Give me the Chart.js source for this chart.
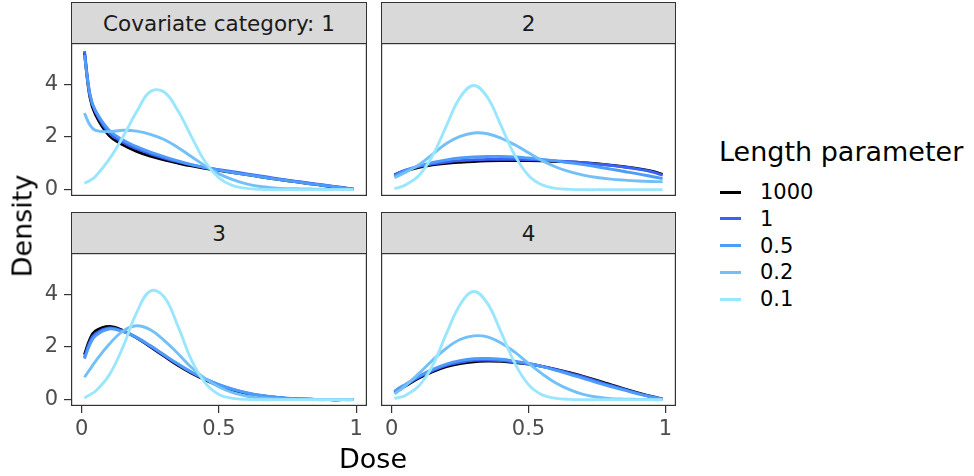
<!DOCTYPE html>
<html>
<head>
<meta charset="utf-8">
<script src="https://cdn.jsdelivr.net/npm/chart.js@4.4.1/dist/chart.umd.min.js"></script>
<style>
  body { margin: 0; background: #fff; font-family: "DejaVu Sans", sans-serif; }
  #wrap { position: relative; width: 974px; height: 476px; overflow: hidden; }
  .panel { position: absolute; }
  .strip { position: absolute; box-sizing: border-box; background: #d9d9d9; border: 1.2px solid #333;
           color: #1a1a1a; font-size: 21.5px; display: flex; align-items: center; justify-content: center; }
  .title { position: absolute; color: #000; font-size: 27px; white-space: nowrap; }
  .leg { position: absolute; font-size: 21px; color: #000; white-space: nowrap; }
  .sw { position: absolute; width: 21px; height: 3px; }
</style>
</head>
<body>
<div id="wrap">
  <div class="strip" style="left:71px;top:2px;width:296px;height:42px;">Covariate category: 1</div>
  <div class="strip" style="left:381px;top:2px;width:295px;height:42px;">2</div>
  <div class="strip" style="left:71px;top:212px;width:296px;height:42px;">3</div>
  <div class="strip" style="left:381px;top:212px;width:295px;height:42px;">4</div>
  <canvas id="p1" class="panel" style="left:0px;top:43px;" width="367" height="153"></canvas>
  <canvas id="p2" class="panel" style="left:381px;top:43px;" width="295" height="153"></canvas>
  <canvas id="p3" class="panel" style="left:0px;top:253px;" width="367" height="198"></canvas>
  <canvas id="p4" class="panel" style="left:381px;top:253px;" width="295" height="198"></canvas>
  <div class="title" style="left:373px;top:458px;transform:translate(-50%,-50%);">Dose</div>
  <div class="title" style="left:22px;top:226px;transform:translate(-50%,-50%) rotate(-90deg);">Density</div>
  <div id="legend"></div>
</div>
<script>
const dose = [0.01, 0.03, 0.05, 0.1, 0.15, 0.2, 0.25, 0.3, 0.35, 0.4, 0.45, 0.5,
              0.55, 0.6, 0.65, 0.7, 0.75, 0.8, 0.85, 0.9, 0.95, 0.99];
const lengths = ["1000", "1", "0.5", "0.2", "0.1"];
const colors = ["#000000", "#3a62f8", "#4e9cf9", "#73c0f9", "#9be6ff"];
const xTicks = [0, 0.5, 1];
const yTicks = [0, 2, 4];

// covariate category 1
const c1_1000 = [5.2, 3.5, 2.85, 2.05, 1.7, 1.45, 1.27, 1.13, 1.01, 0.9, 0.81, 0.73, 0.65, 0.57, 0.49, 0.41, 0.34, 0.27, 0.2, 0.13, 0.07, 0.02];
const c1_1    = [5.25, 3.6, 2.95, 2.15, 1.8, 1.55, 1.36, 1.2, 1.06, 0.94, 0.84, 0.76, 0.68, 0.6, 0.52, 0.44, 0.36, 0.29, 0.22, 0.15, 0.08, 0.02];
const c1_05   = [5.1, 3.6, 3.0, 2.25, 1.88, 1.63, 1.42, 1.25, 1.09, 0.95, 0.84, 0.74, 0.65, 0.57, 0.49, 0.41, 0.34, 0.27, 0.2, 0.14, 0.07, 0.02];
const c1_02   = [2.9, 2.45, 2.25, 2.2, 2.25, 2.22, 2.1, 1.9, 1.6, 1.25, 0.9, 0.6, 0.38, 0.22, 0.12, 0.07, 0.04, 0.03, 0.02, 0.01, 0.01, 0.01];
const c1_01   = [0.24, 0.35, 0.5, 1.15, 2.0, 2.95, 3.72, 3.7, 3.0, 2.0, 1.05, 0.45, 0.15, 0.05, 0.01, 0, 0, 0, 0, 0, 0, 0];
// covariate category 2
const c2_1000 = [0.55, 0.65, 0.72, 0.85, 0.94, 1.0, 1.04, 1.07, 1.09, 1.1, 1.1, 1.1, 1.09, 1.07, 1.05, 1.02, 0.98, 0.93, 0.87, 0.8, 0.7, 0.58];
const c2_1    = [0.55, 0.66, 0.74, 0.88, 0.98, 1.05, 1.1, 1.13, 1.15, 1.15, 1.15, 1.14, 1.12, 1.09, 1.06, 1.02, 0.97, 0.92, 0.86, 0.78, 0.68, 0.55];
const c2_05   = [0.5, 0.62, 0.72, 0.9, 1.03, 1.13, 1.2, 1.24, 1.26, 1.26, 1.24, 1.2, 1.15, 1.09, 1.02, 0.95, 0.87, 0.78, 0.69, 0.6, 0.5, 0.42];
const c2_02   = [0.45, 0.55, 0.65, 0.95, 1.35, 1.75, 2.02, 2.15, 2.12, 1.95, 1.7, 1.4, 1.1, 0.86, 0.68, 0.55, 0.46, 0.4, 0.36, 0.33, 0.31, 0.3];
const c2_01   = [0.04, 0.1, 0.18, 0.54, 1.3, 2.42, 3.5, 3.95, 3.5, 2.42, 1.3, 0.54, 0.18, 0.05, 0.01, 0, 0, 0, 0, 0, 0, 0];
// covariate category 3
const c3_1000 = [1.7, 2.3, 2.6, 2.78, 2.62, 2.35, 2.0, 1.65, 1.3, 1.0, 0.75, 0.53, 0.36, 0.23, 0.14, 0.08, 0.04, 0.02, 0.01, 0, 0, 0];
const c3_1    = [1.6, 2.2, 2.5, 2.72, 2.6, 2.35, 2.02, 1.68, 1.34, 1.03, 0.78, 0.56, 0.39, 0.26, 0.16, 0.1, 0.05, 0.03, 0.01, 0, 0, 0];
const c3_05   = [1.55, 2.1, 2.42, 2.68, 2.58, 2.36, 2.05, 1.7, 1.36, 1.05, 0.79, 0.57, 0.4, 0.27, 0.17, 0.1, 0.06, 0.03, 0.01, 0.01, 0, 0];
const c3_02   = [0.85, 1.15, 1.45, 2.1, 2.6, 2.8, 2.65, 2.25, 1.75, 1.22, 0.8, 0.48, 0.27, 0.14, 0.07, 0.03, 0.01, 0.01, 0, 0, 0, 0];
const c3_01   = [0.06, 0.19, 0.32, 0.93, 1.99, 3.3, 4.12, 3.9, 2.8, 1.5, 0.63, 0.2, 0.05, 0.01, 0, 0, 0, 0, 0, 0, 0, 0];
// covariate category 4
const c4_1000 = [0.28, 0.4, 0.52, 0.82, 1.06, 1.25, 1.37, 1.44, 1.46, 1.45, 1.41, 1.35, 1.26, 1.15, 1.02, 0.88, 0.73, 0.57, 0.41, 0.26, 0.12, 0.02];
const c4_1    = [0.3, 0.43, 0.55, 0.86, 1.1, 1.3, 1.42, 1.49, 1.5, 1.48, 1.43, 1.36, 1.26, 1.14, 1.0, 0.86, 0.7, 0.54, 0.39, 0.24, 0.11, 0.02];
const c4_05   = [0.32, 0.46, 0.58, 0.9, 1.15, 1.35, 1.48, 1.55, 1.56, 1.53, 1.46, 1.37, 1.25, 1.11, 0.96, 0.81, 0.65, 0.5, 0.36, 0.22, 0.1, 0.02];
const c4_02   = [0.22, 0.36, 0.52, 1.0, 1.5, 1.95, 2.28, 2.42, 2.38, 2.15, 1.8, 1.38, 0.98, 0.63, 0.38, 0.2, 0.1, 0.04, 0.02, 0.01, 0, 0];
const c4_01   = [0.05, 0.09, 0.16, 0.53, 1.3, 2.5, 3.6, 4.1, 3.65, 2.55, 1.38, 0.57, 0.18, 0.05, 0.01, 0, 0, 0, 0, 0, 0, 0];

const panels = [
  { id: "p1", series: [c1_1000, c1_1, c1_05, c1_02, c1_01], showX: false, showY: true },
  { id: "p2", series: [c2_1000, c2_1, c2_05, c2_02, c2_01], showX: false, showY: false },
  { id: "p3", series: [c3_1000, c3_1, c3_05, c3_02, c3_01], showX: true, showY: true },
  { id: "p4", series: [c4_1000, c4_1, c4_05, c4_02, c4_01], showX: true, showY: false },
];

const tickFont = { family: "DejaVu Sans", size: 21 };

// panel border drawn over the curves, like theme_bw
const borderPlugin = {
  id: "panelBorder",
  afterDraw(chart) {
    const a = chart.chartArea;
    const ctx = chart.ctx;
    ctx.save();
    ctx.strokeStyle = "#333333";
    ctx.lineWidth = 1.2;
    ctx.strokeRect(a.left + 0.6, a.top + 0.6, a.right - a.left - 1.2, a.bottom - a.top - 1.2);
    ctx.restore();
  },
};

panels.forEach((p) => {
  new Chart(document.getElementById(p.id), {
    type: "line",
    data: {
      datasets: p.series.map((vals, i) => ({
        label: lengths[i],
        data: dose.map((d, j) => ({ x: d, y: vals[j] })),
        borderColor: colors[i],
        borderWidth: 2.9,
        pointRadius: 0,
        fill: false,
        tension: 0.4,
        order: lengths.length - 1 - i,
      })),
    },
    options: {
      responsive: false,
      animation: false,
      devicePixelRatio: 1,
      layout: { padding: 0 },
      plugins: { legend: { display: false }, tooltip: { enabled: false } },
      scales: {
        x: {
          type: "linear",
          min: -0.039,
          max: 1.039,
          display: p.showX,
          afterBuildTicks: (s) => { s.ticks = xTicks.map((v) => ({ value: v })); },
          afterFit: (s) => {
            s.paddingLeft = 0; s.paddingRight = 0;
            if (p.showX) s.height = 45;
          },
          ticks: { font: tickFont, color: "#4d4d4d", padding: 4, maxRotation: 0,
                   callback: (v) => String(v) },
          grid: { drawOnChartArea: false, drawTicks: true, tickLength: 7, color: "#333333", lineWidth: 1.2 },
          border: { display: false },
        },
        y: {
          type: "linear",
          min: -0.24,
          max: 5.56,
          display: p.showY,
          afterBuildTicks: (s) => { s.ticks = yTicks.map((v) => ({ value: v })); },
          afterFit: (s) => {
            s.paddingTop = 0; s.paddingBottom = 0;
            if (p.showY) s.width = 71;
          },
          ticks: { font: tickFont, color: "#4d4d4d", padding: 6, callback: (v) => String(v) },
          grid: { drawOnChartArea: false, drawTicks: true, tickLength: 7, color: "#333333", lineWidth: 1.2 },
          border: { display: false },
        },
      },
    },
    plugins: [borderPlugin],
  });
});

// legend
const legend = document.getElementById("legend");
const title = document.createElement("div");
title.className = "title";
title.style.left = "719px";
title.style.top = "136px";
title.textContent = "Length parameter";
legend.appendChild(title);
lengths.forEach((lab, i) => {
  const y = 192 + i * 26.8;
  const sw = document.createElement("div");
  sw.className = "sw";
  sw.style.left = "720px";
  sw.style.top = (y - 1.5) + "px";
  sw.style.background = colors[i];
  legend.appendChild(sw);
  const t = document.createElement("div");
  t.className = "leg";
  t.style.left = "760px";
  t.style.top = y + "px";
  t.style.transform = "translateY(-50%)";
  t.textContent = lab;
  legend.appendChild(t);
});
</script>
</body>
</html>
